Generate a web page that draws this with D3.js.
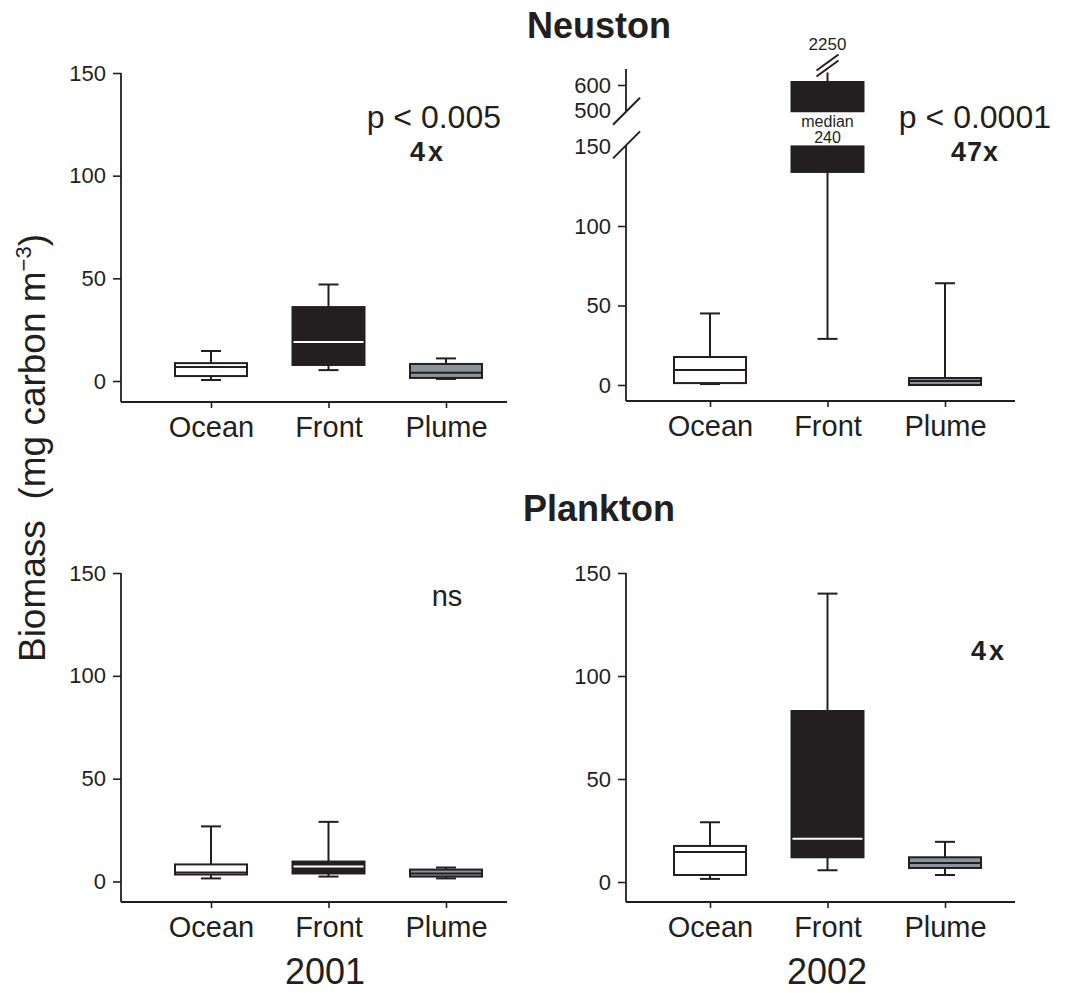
<!DOCTYPE html>
<html><head><meta charset="utf-8">
<script src="https://cdn.jsdelivr.net/npm/d3@7"></script>
<style>
body{margin:0;background:#fff}
text{font-family:"Liberation Sans",Arial,Helvetica,sans-serif;fill:#231f20}
</style>
</head><body>
<svg id="chart" width="1066" height="993"></svg>
<script>
// ---------- data ----------
const categories = ["Ocean", "Front", "Plume"];
const boxFills = ["#ffffff", "#231f20", "#8b949c"];
const medianColors = ["#231f20", "#ffffff", "#231f20"];
// each entry: [min, q1, median, q3, max]
const neuston2001 = [[0.5, 2.4, 6.8, 8.7, 14.6], [5.3, 7.8, 19, 36, 47], [1, 1.5, 4, 8.3, 11]];
const neuston2002 = [[0.6, 1.2, 9.4, 17.6, 45], [29, 134, 240, 612, 2250], [0, 0, 2.5, 4.4, 64]];
const plankton2001 = [[1.5, 3.4, 4.4, 8.3, 26.8], [2.4, 3.9, 7.3, 9.7, 29], [1.5, 2.4, 3.9, 5.8, 6.8]];
const plankton2002 = [[1.5, 3.4, 14.6, 17.5, 29], [5.7, 12, 21, 83, 140], [3.4, 6.8, 9.2, 12, 19.5]];
const yTicks = [0, 50, 100, 150];
const brokenTicks = [0, 50, 100, 150, 500, 600];
const brokenUnticked = [150, 500];
const brokenDomain = [0, 150, 500, 600];
const segments = [[0, 151], [488, 664]];
const whiskerClip = 650;
const years = ["2001", "2002"];
const rowTitles = ["Neuston", "Plankton"];

// ---------- layout ----------
const ink = "#231f20";
const svg = d3.select("#chart");
const boxW = 72, capW = 20;

const panels = [
  {data: neuston2001, x0: 121, x1: 507, cats: [211, 446], yRange: [381, 73], axisY: 402, top: 73, broken: false},
  {data: neuston2002, x0: 626, x1: 1015, cats: [710, 945], yRange: [385, 146.5, 110, 85], axisY: 401, top: 69, broken: true},
  {data: plankton2001, x0: 121, x1: 507, cats: [211, 446], yRange: [881.5, 573], axisY: 902, top: 573, broken: false},
  {data: plankton2002, x0: 626, x1: 1015, cats: [710, 945], yRange: [882, 573], axisY: 902, top: 573, broken: false}
];

function styleAxisText(sel, size) {
  sel.selectAll("text")
    .attr("font-size", size)
    .attr("font-family", "'Liberation Sans',Arial,Helvetica,sans-serif")
    .attr("fill", ink);
  sel.selectAll("line").attr("stroke", ink).attr("stroke-width", 1.6);
  sel.attr("font-family", null).attr("font-size", null);
}

panels.forEach(p => {
  const g = svg.append("g");
  const y = p.broken
    ? d3.scaleLinear().domain(brokenDomain).range(p.yRange)
    : d3.scaleLinear().domain([0, 150]).range(p.yRange);
  const x = d3.scalePoint().domain(categories).range(p.cats);

  // y axis
  const yAx = d3.axisLeft(y).tickValues(p.broken ? brokenTicks : yTicks)
    .tickSize(8).tickPadding(7).tickSizeOuter(0);
  const ya = g.append("g").attr("transform", `translate(${p.x0},0)`).call(yAx);
  ya.select(".domain").remove();
  styleAxisText(ya, 22);
  if (p.broken) {
    ya.selectAll(".tick").filter(d => brokenUnticked.includes(d)).select("line").remove();
    const yLowTop = y(segments[0][1]) - 1.5;
    g.append("line").attr("x1", p.x0).attr("x2", p.x0).attr("y1", yLowTop).attr("y2", p.axisY)
      .attr("stroke", ink).attr("stroke-width", 1.8);
    g.append("line").attr("x1", p.x0).attr("x2", p.x0).attr("y1", y(segments[1][1])).attr("y2", y(segments[1][0]))
      .attr("stroke", ink).attr("stroke-width", 1.8);
    [y(segments[0][1]) - 1.5, y(segments[1][0])].forEach(cy => {
      g.append("line").attr("x1", p.x0 - 13).attr("y1", cy + 13.5).attr("x2", p.x0 + 14).attr("y2", cy - 13.5)
        .attr("stroke", ink).attr("stroke-width", 2);
    });
  } else {
    g.append("line").attr("x1", p.x0).attr("x2", p.x0).attr("y1", p.top).attr("y2", p.axisY)
      .attr("stroke", ink).attr("stroke-width", 1.8);
  }

  // x axis
  const xAx = d3.axisBottom(x).tickSize(6).tickPadding(8).tickSizeOuter(0);
  const xa = g.append("g").attr("transform", `translate(0,${p.axisY})`).call(xAx);
  xa.select(".domain").remove();
  styleAxisText(xa, 29);
  g.append("line").attr("x1", p.x0).attr("x2", p.x1).attr("y1", p.axisY).attr("y2", p.axisY)
    .attr("stroke", ink).attr("stroke-width", 1.8);

  // boxes
  const segs = p.broken ? segments : [[-Infinity, Infinity]];
  p.data.forEach((d, i) => {
    const cx = x(categories[i]);
    const [mn, q1, md, q3, mx] = d;
    const topVal = Math.min(mx, p.broken ? whiskerClip : mx);
    g.append("line").attr("x1", cx).attr("x2", cx).attr("y1", y(mn)).attr("y2", y(q1))
      .attr("stroke", ink).attr("stroke-width", 2);
    g.append("line").attr("x1", cx).attr("x2", cx).attr("y1", y(q3)).attr("y2", y(topVal))
      .attr("stroke", ink).attr("stroke-width", 2);
    g.append("line").attr("x1", cx - capW / 2).attr("x2", cx + capW / 2).attr("y1", y(mn)).attr("y2", y(mn))
      .attr("stroke", ink).attr("stroke-width", 2);
    if (mx <= topVal) {
      g.append("line").attr("x1", cx - capW / 2).attr("x2", cx + capW / 2).attr("y1", y(mx)).attr("y2", y(mx))
        .attr("stroke", ink).attr("stroke-width", 2);
    } else {
      const by = y(topVal) - 7;
      [-3, 3].forEach(off => {
        g.append("line").attr("x1", cx - 11).attr("y1", by + 8 + off).attr("x2", cx + 11).attr("y2", by - 8 + off)
          .attr("stroke", ink).attr("stroke-width", 2);
      });
      g.append("text").attr("x", cx).attr("y", by - 16).attr("text-anchor", "middle")
        .attr("font-size", 17).text(d3.format("d")(mx));
    }
    segs.forEach(([lo, hi]) => {
      const a = Math.max(q1, lo), b = Math.min(q3, hi);
      if (a < b) {
        g.append("rect").attr("x", cx - boxW / 2).attr("width", boxW)
          .attr("y", y(b)).attr("height", Math.max(0.5, y(a) - y(b)))
          .attr("fill", boxFills[i]).attr("stroke", ink).attr("stroke-width", 2);
      }
    });
    const inSeg = segs.some(([lo, hi]) => md >= lo && md <= hi);
    if (inSeg) {
      g.append("line").attr("x1", cx - boxW / 2 + 1).attr("x2", cx + boxW / 2 - 1)
        .attr("y1", y(md)).attr("y2", y(md))
        .attr("stroke", medianColors[i]).attr("stroke-width", 2);
    } else {
      g.append("text").attr("x", cx).attr("y", 127).attr("text-anchor", "middle").attr("font-size", 16).text("median");
      g.append("text").attr("x", cx).attr("y", 143).attr("text-anchor", "middle").attr("font-size", 16).text(md);
    }
  });
});

// ---------- annotations ----------
function txt(x, yy, s, size, opts = {}) {
  const t = svg.append("text").attr("x", x).attr("y", yy).attr("font-size", size)
    .attr("text-anchor", opts.anchor || "middle").text(s);
  if (opts.bold) t.attr("font-weight", "bold");
  if (opts.ls) t.attr("letter-spacing", opts.ls);
  return t;
}
txt(599, 38, rowTitles[0], 36, {bold: true});
txt(599, 521, rowTitles[1], 36, {bold: true});
txt(501, 128, "p < 0.005", 32, {anchor: "end"});
txt(428, 161, "4x", 27, {bold: true, ls: 3});
txt(1051, 128, "p < 0.0001", 32, {anchor: "end"});
txt(975, 161, "47x", 27, {bold: true, ls: 1});
txt(447, 606, "ns", 29);
txt(989, 660, "4x", 27, {bold: true, ls: 3});
txt(325, 984, years[0], 36);
txt(827, 984, years[1], 36);

const yl = svg.append("text").attr("transform", "translate(45,448) rotate(-90)")
  .attr("text-anchor", "middle").attr("font-size", 37).style("white-space", "pre");
yl.append("tspan").text("Biomass  (mg carbon m");
yl.append("tspan").attr("font-size", 22).attr("dy", -14).text("−3");
yl.append("tspan").attr("dy", 14).text(")");
</script>
</body></html>
